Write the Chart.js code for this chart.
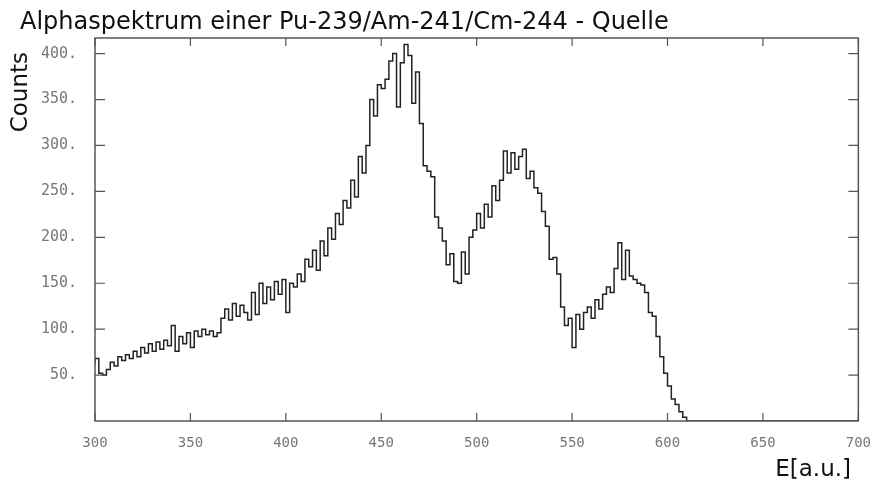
<!DOCTYPE html>
<html>
<head>
<meta charset="utf-8">
<script src="https://cdn.jsdelivr.net/npm/chart.js@4.4.1/dist/chart.umd.min.js"></script>
<style>
  html, body { margin: 0; padding: 0; background: #fff; }
  #wrap { width: 877px; height: 483px; }
</style>
</head>
<body>
<div id="wrap"><canvas id="spectrum" width="877" height="483"></canvas></div>
<script>
// histogram: counts per 2-channel bin, starting at E = 300
const firstBin = 300;
const binWidth = 2;
const lastEdge = 700;
const counts = [
  62, 68, 52, 50, 56, 64, 60, 70, 66, 72,
  68, 76, 70, 80, 74, 84, 76, 86, 78, 88,
  82, 104, 76, 92, 84, 96, 80, 98, 92, 100,
  94, 98, 92, 96, 112, 122, 110, 128, 114, 126,
  118, 110, 140, 116, 150, 128, 146, 132, 152, 138,
  154, 118, 150, 146, 160, 152, 176, 168, 186, 164,
  196, 180, 210, 198, 226, 214, 240, 232, 262, 244,
  288, 270, 300, 350, 332, 366, 362, 372, 392, 400,
  342, 390, 410, 398, 346, 380, 324, 278, 272, 266,
  222, 210, 196, 170, 182, 152, 150, 184, 160, 200,
  208, 226, 210, 236, 222, 256, 240, 262, 294, 270,
  292, 274, 288, 296, 264, 272, 254, 248, 228, 212,
  176, 178, 160, 124, 104, 112, 80, 116, 100, 118,
  124, 112, 132, 122, 138, 146, 140, 166, 194, 154,
  186, 158, 154, 150, 148, 140, 118, 114, 92, 70,
  52, 38, 24, 18, 10, 4, 0
];
const xTicks = [300, 350, 400, 450, 500, 550, 600, 650, 700];
const yTicks = [50, 100, 150, 200, 250, 300, 350, 400];

const points = counts.map((c, i) => ({ x: firstBin + i * binWidth, y: c }));
points.push({ x: lastEdge, y: 0 });

// frame round the plot area with inward ticks on all four sides, plus the texts
const framePlugin = {
  id: "frame",
  afterDraw(chart) {
    const { ctx, chartArea: a, scales } = chart;
    ctx.save();
    ctx.strokeStyle = "#555";
    ctx.lineWidth = 1.5;
    ctx.strokeRect(a.left, a.top, a.right - a.left, a.bottom - a.top);
    ctx.lineWidth = 1.2;
    ctx.beginPath();
    xTicks.forEach(v => {
      const px = scales.x.getPixelForValue(v);
      ctx.moveTo(px, a.bottom); ctx.lineTo(px, a.bottom - 8);
      ctx.moveTo(px, a.top); ctx.lineTo(px, a.top + 8);
    });
    yTicks.forEach(v => {
      const py = scales.y.getPixelForValue(v);
      ctx.moveTo(a.left, py); ctx.lineTo(a.left + 10, py);
      ctx.moveTo(a.right, py); ctx.lineTo(a.right - 10, py);
    });
    ctx.stroke();

    ctx.fillStyle = "#111";
    ctx.font = '24px "DejaVu Sans"';
    ctx.textBaseline = "alphabetic";
    ctx.textAlign = "left";
    ctx.fillText("Alphaspektrum einer Pu-239/Am-241/Cm-244 - Quelle", 20, 29);
    ctx.font = '23px "DejaVu Sans"';
    ctx.textAlign = "right";
    ctx.fillText("E[a.u.]", 851, 476);
    ctx.translate(27, 52);
    ctx.rotate(-Math.PI / 2);
    ctx.fillText("Counts", 0, 0);
    ctx.restore();
  }
};

new Chart(document.getElementById("spectrum").getContext("2d"), {
  type: "line",
  data: {
    datasets: [{
      label: "Counts",
      data: points,
      stepped: "after",
      borderColor: "#222",
      borderWidth: 1.5,
      pointRadius: 0,
      fill: false
    }]
  },
  options: {
    responsive: false,
    animation: false,
    layout: { padding: { left: 0, top: 38, right: 17, bottom: 0 } },
    plugins: { legend: { display: false }, tooltip: { enabled: false } },
    scales: {
      x: {
        type: "linear",
        min: 300,
        max: 700,
        afterBuildTicks: axis => { axis.ticks = xTicks.map(v => ({ value: v })); },
        afterFit: axis => { axis.height = 62; },
        grid: { display: false },
        border: { display: false },
        ticks: {
          padding: 6,
          color: "#777",
          font: { family: "DejaVu Sans Mono", size: 14 },
          maxRotation: 0,
          callback: v => String(v)
        }
      },
      y: {
        min: 0,
        max: 417,
        afterBuildTicks: axis => { axis.ticks = yTicks.map(v => ({ value: v })); },
        afterFit: axis => { axis.width = 95; },
        grid: { display: false },
        border: { display: false },
        ticks: {
          padding: 10,
          color: "#777",
          font: { family: "DejaVu Sans Mono", size: 15 },
          callback: v => v + "."
        }
      }
    }
  },
  plugins: [framePlugin]
});
</script>
</body>
</html>
